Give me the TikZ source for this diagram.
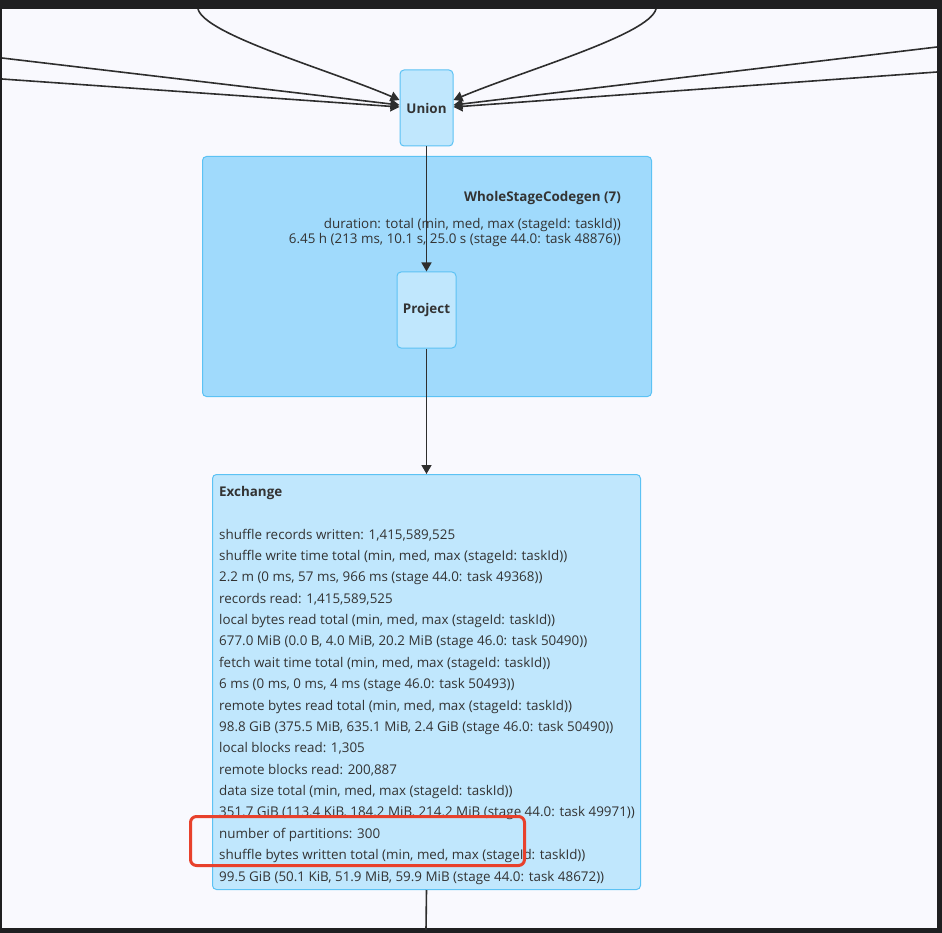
\documentclass[tikz,border=0pt]{standalone}
\usepackage{fontspec}
\setmainfont{Open Sans}
\usetikzlibrary{arrows.meta}
\definecolor{bg}{HTML}{F9F9FE}
\definecolor{frame}{HTML}{1F1F21}
\definecolor{nodefill}{HTML}{C0E7FD}
\definecolor{clusterfill}{HTML}{A0DAFC}
\definecolor{nodeborder}{HTML}{5CC2F4}
\definecolor{edgecol}{HTML}{2E2E2E}
\definecolor{txt}{HTML}{333333}
\definecolor{hl}{HTML}{E8412C}
\tikzset{
  opnode/.style={draw=nodeborder, fill=nodefill, line width=1pt, rounded corners=4pt, inner sep=0pt, text=txt, font=\fontsize{13.4}{15}\selectfont\bfseries},
  clusterbox/.style={draw=nodeborder, fill=clusterfill, line width=1pt, rounded corners=4pt, inner sep=0pt},
  lbl/.style={inner sep=0pt, text=txt, font=\fontsize{13.4}{15}\selectfont, anchor=base west},
  rlbl/.style={inner sep=0pt, text=txt, font=\fontsize{13.4}{15}\selectfont, anchor=base east},
  edgeline/.style={draw=edgecol, line width=1.6pt},
  arr/.style={edgeline, -{Triangle[length=9pt,width=10pt]}},
  hlbox/.style={draw=hl, line width=3pt, rounded corners=6pt, inner sep=0pt}
}
\begin{document}
\begin{tikzpicture}[x=1pt,y=-1pt]
\useasboundingbox (0,0) rectangle (942,933);
\fill[frame] (0,0) rectangle (942,933);
\fill[bg] (2,9) rectangle (937,928);

% cluster
\node[clusterbox, anchor=north west, minimum width=449pt, minimum height=240pt] (wsc) at (202,156) {};
\node[rlbl, font=\fontsize{13.4}{15}\selectfont\bfseries] (wsctitle) at (621,202) {WholeStageCodegen (7)};
\node[rlbl] (wscd1) at (621,229) {duration: total (min, med, max (stageId: taskId))};
\node[rlbl] (wscd2) at (621,244) {6.45 h (213 ms, 10.1 s, 25.0 s (stage 44.0: task 48876))};

% nodes
\node[opnode, minimum width=53pt, minimum height=76pt] (union) at (426.5,108) {Union};
\node[opnode, minimum width=59pt, minimum height=76pt] (project) at (426.5,310) {Project};
\node[opnode, anchor=north west, minimum width=428pt, minimum height=415pt] (exch) at (212,474) {};

% exchange text
\node[lbl, font=\fontsize{13.4}{15}\selectfont\bfseries] (ex0) at (219,496) {Exchange};
\node[lbl] (ex1) at (219,539) {shuffle records written: 1,415,589,525};
\node[lbl] (ex2) at (219,560.4) {shuffle write time total (min, med, max (stageId: taskId))};
\node[lbl] (ex3) at (219,581.8) {2.2 m (0 ms, 57 ms, 966 ms (stage 44.0: task 49368))};
\node[lbl] (ex4) at (219,603.1) {records read: 1,415,589,525};
\node[lbl] (ex5) at (219,624.5) {local bytes read total (min, med, max (stageId: taskId))};
\node[lbl] (ex6) at (219,645.9) {677.0 MiB (0.0 B, 4.0 MiB, 20.2 MiB (stage 46.0: task 50490))};
\node[lbl] (ex7) at (219,667.3) {fetch wait time total (min, med, max (stageId: taskId))};
\node[lbl] (ex8) at (219,688.6) {6 ms (0 ms, 0 ms, 4 ms (stage 46.0: task 50493))};
\node[lbl] (ex9) at (219,710) {remote bytes read total (min, med, max (stageId: taskId))};
\node[lbl] (ex10) at (219,731.4) {98.8 GiB (375.5 MiB, 635.1 MiB, 2.4 GiB (stage 46.0: task 50490))};
\node[lbl] (ex11) at (219,752.8) {local blocks read: 1,305};
\node[lbl] (ex12) at (219,774.1) {remote blocks read: 200,887};
\node[lbl] (ex13) at (219,795.5) {data size total (min, med, max (stageId: taskId))};
\node[lbl] (ex14) at (219,816.9) {351.7 GiB (113.4 KiB, 184.2 MiB, 214.2 MiB (stage 44.0: task 49971))};
\node[lbl] (ex15) at (219,838.3) {number of partitions: 300};
\node[lbl] (ex16) at (219,859.6) {shuffle bytes written total (min, med, max (stageId: taskId))};
\node[lbl] (ex17) at (219,881) {99.5 GiB (50.1 KiB, 51.9 MiB, 59.9 MiB (stage 44.0: task 48672))};

% highlight
\node[hlbox, anchor=north west, minimum width=334pt, minimum height=49pt] (hlrect) at (189,815) {};

% edges
\draw[arr] (union.south) -- (project.north);
\draw[arr] (project.south) -- (exch.north);
\coordinate (outend) at (426,930);
\draw[edgeline] (exch.south) -- (outend);

\coordinate (cl) at (198,9);
\coordinate (cr) at (656,9);
\coordinate (la) at (2,58);
\coordinate (lb) at (2,79);
\coordinate (ra) at (937,47);
\coordinate (rb) at (937,72);
\draw[arr] (cl) .. controls (205,35) and (330,70) .. ([yshift=8pt]union.west);
\draw[arr] (cr) .. controls (649,35) and (525,70) .. ([yshift=8pt]union.east);
\draw[arr] (la) -- ([yshift=3pt]union.west);
\draw[arr] (lb) -- ([yshift=1pt]union.west);
\draw[arr] (ra) -- ([yshift=3pt]union.east);
\draw[arr] (rb) -- ([yshift=1pt]union.east);
\end{tikzpicture}
\end{document}
